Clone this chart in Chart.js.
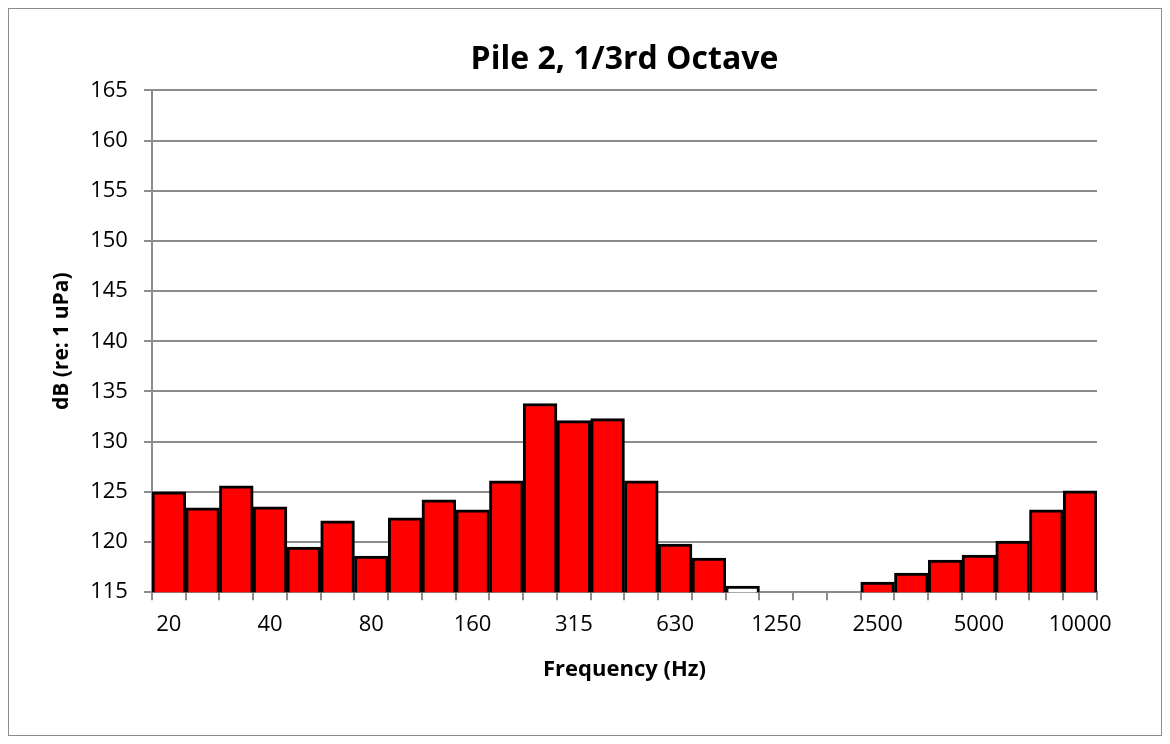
<!DOCTYPE html>
<html>
<head>
<meta charset="utf-8">
<script src="https://cdn.jsdelivr.net/npm/chart.js@4.4.1/dist/chart.umd.min.js"></script>
<style>
  html, body { margin: 0; padding: 0; background: #fff; }
  #wrap { width: 1170px; height: 744px; position: relative; }
</style>
</head>
<body>
<div id="wrap"><canvas id="pileChart"></canvas></div>
<script>
const bands = ['20', '25', '31.5', '40', '50', '63', '80', '100', '125', '160',
    '200', '250', '315', '400', '500', '630', '800', '1000', '1250', '1600',
    '2000', '2500', '3150', '4000', '5000', '6300', '8000', '10000'];
const levels = [125.0, 123.4, 125.6, 123.5, 119.5, 122.1, 118.6, 122.4, 124.2, 123.2,
    126.1, 133.8, 132.1, 132.3, 126.1, 119.8, 118.4, 115.6, 114.6, 114.6,
    114.9, 116.0, 116.9, 118.2, 118.7, 120.1, 123.2, 125.1];
const yMin = 115;
const yMax = 165;
const yStep = 5;

const fills = levels.map((v, i) => (i === 17 ? '#ffffff' : '#ff0000'));

const frame = {
    id: 'frame',
    beforeDraw(chart) {
        const c = chart.ctx;
        c.save();
        c.fillStyle = '#fff';
        c.fillRect(0, 0, chart.width, chart.height);
        c.strokeStyle = '#8c8c8c';
        c.lineWidth = 1;
        c.strokeRect(8.5, 8.5, 1153, 727);
        c.restore();
    }
};

Chart.defaults.font.family = '"Open Sans", Lato, sans-serif';
Chart.defaults.color = '#000';

const ctx = document.getElementById('pileChart').getContext('2d');
const pileChart = new Chart(ctx, {
    type: 'bar',
    data: {
        labels: bands,
        datasets: [{
            label: 'Pile 2',
            data: levels,
            backgroundColor: fills,
            borderColor: '#000',
            borderWidth: 3,
            borderSkipped: false,
            barPercentage: 1,
            categoryPercentage: 1
        }]
    },
    options: {
        responsive: true,
        maintainAspectRatio: false,
        animation: false,
        layout: { padding: { left: 43, right: 73, top: 22, bottom: 57 } },
        plugins: {
            legend: { display: false },
            tooltip: { enabled: false },
            title: {
                display: true,
                fullSize: false,
                text: 'Pile 2, 1/3rd Octave',
                font: { size: 32, weight: 'bold' },
                padding: { top: 19, bottom: 11 }
            }
        },
        scales: {
            x: {
                offset: true,
                grid: { offset: true, drawOnChartArea: false, color: '#8c8c8c', tickLength: 8, lineWidth: 2 },
                border: { color: '#8c8c8c', width: 2 },
                ticks: {
                    autoSkip: false,
                    maxRotation: 0,
                    font: { size: 22 },
                    padding: 11,
                    callback: function (val, i) { return i % 3 === 0 ? bands[i] : ''; }
                },
                title: {
                    display: true,
                    text: 'Frequency (Hz)',
                    font: { size: 22, weight: 'bold' },
                    padding: { top: 8 }
                }
            },
            y: {
                min: yMin,
                max: yMax,
                ticks: { stepSize: yStep, font: { size: 22 }, padding: 16 },
                grid: { color: '#8c8c8c', lineWidth: 2, tickLength: 8 },
                border: { color: '#8c8c8c', width: 2 },
                title: {
                    display: true,
                    text: 'dB (re: 1 uPa)',
                    font: { size: 21, weight: 'bold' },
                    padding: { top: 6, bottom: 0 }
                }
            }
        }
    },
    plugins: [frame]
});
</script>
</body>
</html>
